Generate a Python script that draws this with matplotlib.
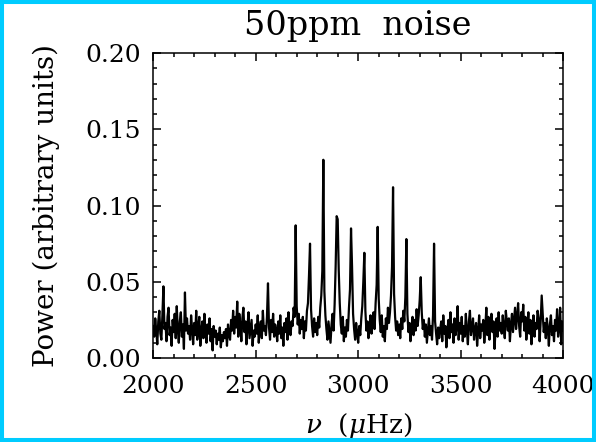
import numpy as np
import matplotlib
matplotlib.use("Agg")
import matplotlib.pyplot as plt
from matplotlib.patches import Rectangle
from matplotlib.ticker import MultipleLocator

# frequency grid of the power spectrum (muHz)
freq_start = 2000
freq_stop = 4000
freq_step = 5

# power, one row per 100 muHz
power = [
    # 2000-2095
    0.021, 0.014, 0.026, 0.018, 0.009, 0.024, 0.031, 0.016, 0.012, 0.028,
    0.047, 0.019, 0.023, 0.011, 0.027, 0.033, 0.015, 0.020, 0.008, 0.025,
    # 2100-2195
    0.017, 0.029, 0.013, 0.034, 0.019, 0.010, 0.024, 0.030, 0.014, 0.022,
    0.006, 0.043, 0.018, 0.026, 0.016, 0.021, 0.012, 0.028, 0.019, 0.009,
    # 2200-2295
    0.023, 0.015, 0.031, 0.012, 0.020, 0.027, 0.008, 0.018, 0.024, 0.013,
    0.029, 0.017, 0.010, 0.022, 0.016, 0.026, 0.011, 0.019, 0.005, 0.021,
    # 2300-2395
    0.014, 0.018, 0.009, 0.016, 0.012, 0.020, 0.007, 0.015, 0.011, 0.017,
    0.013, 0.019, 0.008, 0.022, 0.015, 0.012, 0.025, 0.018, 0.031, 0.016,
    # 2400-2495
    0.027, 0.020, 0.037, 0.014, 0.029, 0.022, 0.011, 0.026, 0.033, 0.017,
    0.024, 0.009, 0.021, 0.030, 0.013, 0.019, 0.025, 0.008, 0.018, 0.014,
    # 2500-2595
    0.022, 0.016, 0.028, 0.010, 0.019, 0.024, 0.013, 0.031, 0.018, 0.021,
    0.015, 0.027, 0.049, 0.020, 0.012, 0.025, 0.017, 0.029, 0.014, 0.022,
    # 2600-2695
    0.018, 0.011, 0.024, 0.016, 0.028, 0.013, 0.020, 0.008, 0.023, 0.017,
    0.026, 0.012, 0.030, 0.019, 0.015, 0.024, 0.021, 0.033, 0.027, 0.087,
    # 2700-2795
    0.034, 0.022, 0.029, 0.016, 0.025, 0.019, 0.027, 0.013, 0.024, 0.018,
    0.031, 0.036, 0.054, 0.075, 0.032, 0.021, 0.014, 0.026, 0.017, 0.023,
    # 2800-2895
    0.015, 0.027, 0.020, 0.033, 0.041, 0.057, 0.130, 0.044, 0.028, 0.019,
    0.012, 0.024, 0.017, 0.010, 0.022, 0.029, 0.018, 0.035, 0.060, 0.093,
    # 2900-2995
    0.091, 0.058, 0.036, 0.022, 0.016, 0.027, 0.011, 0.020, 0.014, 0.025,
    0.018, 0.033, 0.045, 0.085, 0.060, 0.029, 0.019, 0.012, 0.023, 0.016,
    # 3000-3095
    0.010, 0.021, 0.015, 0.026, 0.034, 0.050, 0.069, 0.031, 0.018, 0.024,
    0.013, 0.020, 0.028, 0.016, 0.022, 0.030, 0.019, 0.036, 0.048, 0.086,
    # 3100-3195
    0.039, 0.025, 0.017, 0.028, 0.014, 0.021, 0.011, 0.026, 0.019, 0.033,
    0.023, 0.030, 0.041, 0.060, 0.112, 0.042, 0.027, 0.018, 0.024, 0.015,
    # 3200-3295
    0.022, 0.013, 0.026, 0.019, 0.031, 0.024, 0.040, 0.078, 0.029, 0.017,
    0.023, 0.011, 0.020, 0.027, 0.015, 0.025, 0.018, 0.032, 0.021, 0.028,
    # 3300-3395
    0.038, 0.053, 0.030, 0.019, 0.025, 0.014, 0.022, 0.010, 0.018, 0.026,
    0.015, 0.021, 0.012, 0.028, 0.075, 0.024, 0.016, 0.009, 0.020, 0.013,
    # 3400-3495
    0.019, 0.024, 0.011, 0.028, 0.016, 0.021, 0.007, 0.018, 0.025, 0.013,
    0.030, 0.017, 0.022, 0.010, 0.026, 0.015, 0.020, 0.034, 0.012, 0.023,
    # 3500-3595
    0.016, 0.027, 0.011, 0.021, 0.014, 0.029, 0.018, 0.009, 0.024, 0.031,
    0.015, 0.020, 0.026, 0.012, 0.019, 0.023, 0.008, 0.017, 0.028, 0.013,
    # 3600-3695
    0.022, 0.018, 0.025, 0.010, 0.020, 0.033, 0.015, 0.027, 0.012, 0.021,
    0.029, 0.017, 0.024, 0.006, 0.019, 0.026, 0.014, 0.030, 0.018, 0.023,
    # 3700-3795
    0.016, 0.028, 0.020, 0.013, 0.031, 0.024, 0.018, 0.026, 0.011, 0.022,
    0.029, 0.017, 0.025, 0.033, 0.019, 0.027, 0.036, 0.021, 0.014, 0.030,
    # 3800-3895
    0.024, 0.035, 0.018, 0.027, 0.012, 0.022, 0.030, 0.016, 0.025, 0.009,
    0.020, 0.028, 0.014, 0.023, 0.019, 0.031, 0.026, 0.011, 0.024, 0.041,
    # 3900-3995
    0.029, 0.017, 0.023, 0.013, 0.026, 0.019, 0.008, 0.022, 0.028, 0.015,
    0.021, 0.011, 0.025, 0.018, 0.032, 0.014, 0.020, 0.033, 0.009, 0.024,
    # 4000
    0.018,
]

xticks = [2000, 2500, 3000, 3500, 4000]
yticks = [0.00, 0.05, 0.10, 0.15, 0.20]

freq = np.arange(freq_start, freq_stop + 1, freq_step)
power = np.array(power)

plt.rcParams['font.family'] = 'DejaVu Serif'
plt.rcParams['mathtext.fontset'] = 'dejavuserif'

fig = plt.figure(figsize=(5.96, 4.42), dpi=100)
ax = fig.add_axes([0.257, 0.190, 0.688, 0.690])

ax.plot(freq, power, color='black', linewidth=1.6)

ax.set_xlim(2000, 4000)
ax.set_ylim(0.0, 0.20)
ax.set_xticks(xticks)
ax.set_yticks(yticks)
ax.set_xticklabels([str(t) for t in xticks])
ax.set_yticklabels(["%.2f" % t for t in yticks])
ax.xaxis.set_minor_locator(MultipleLocator(100))
ax.yaxis.set_minor_locator(MultipleLocator(0.01))
ax.tick_params(which='both', direction='in', top=True, right=True, width=1.1)
ax.tick_params(which='major', length=6)
ax.tick_params(which='minor', length=3)
ax.tick_params(axis='y', labelsize=18, pad=9)
ax.tick_params(axis='x', labelsize=18, pad=12)
for s in ax.spines.values():
    s.set_linewidth(1.1)

ax.set_title("50ppm  noise", fontsize=24, pad=13)
ax.set_xlabel(r"$\nu$  ($\mu$Hz)", fontsize=19)
ax.set_ylabel("Power (arbitrary units)", fontsize=20)
ax.xaxis.set_label_coords(0.5, -0.175)
ax.yaxis.set_label_coords(-0.227, 0.5)

# cyan frame round the whole picture
fig.patches.append(Rectangle((0, 0), 1, 1, transform=fig.transFigure, fill=False,
                             edgecolor='#00ccff', linewidth=5.8, zorder=10))

fig.savefig("out.png", dpi=100)
